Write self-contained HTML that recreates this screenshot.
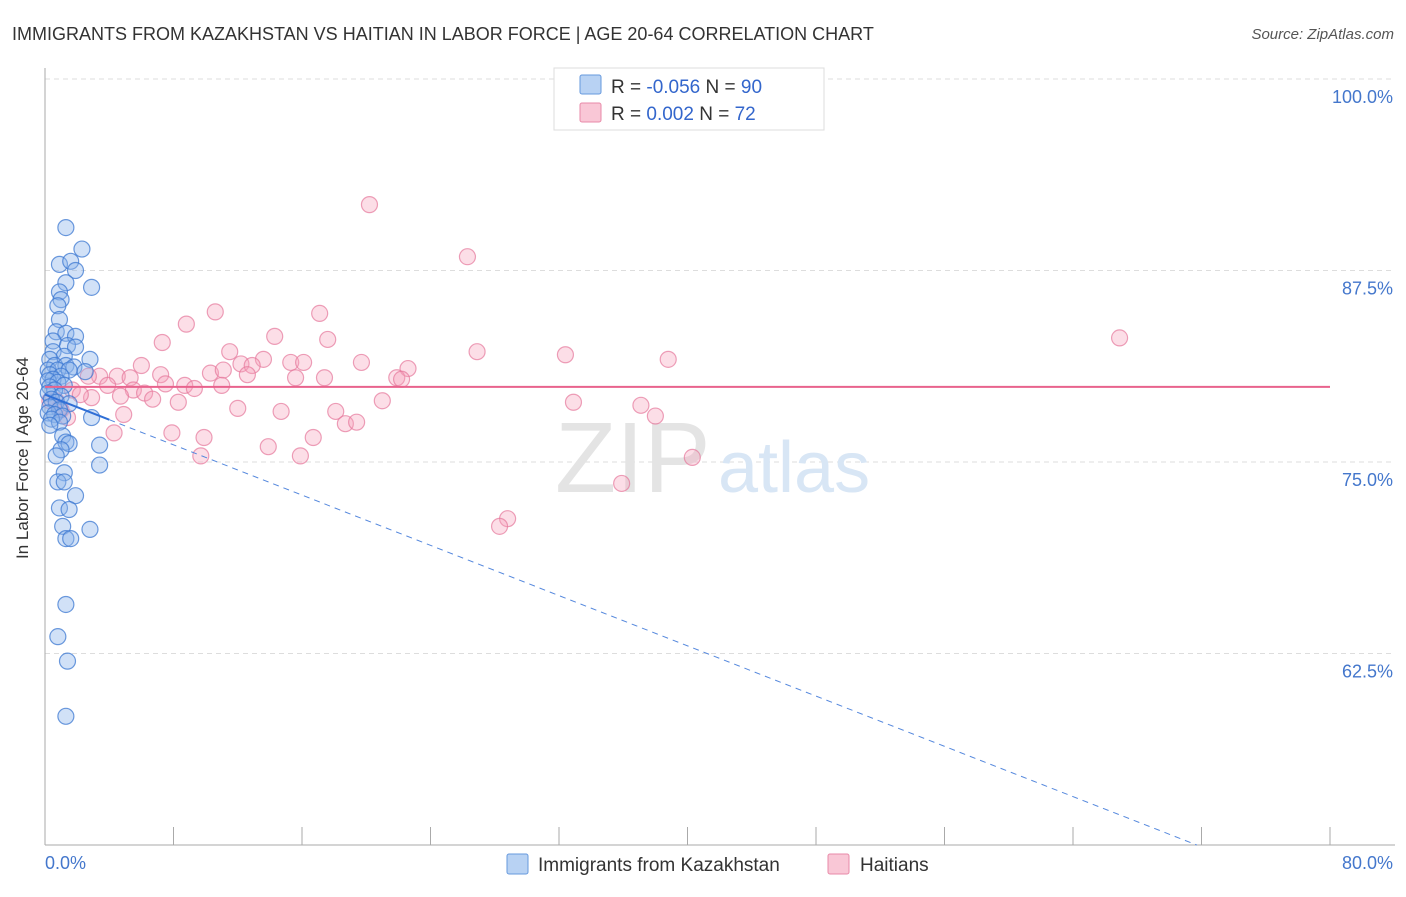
<!DOCTYPE html>
<html><head><meta charset="utf-8"><style>
body{margin:0;background:#fff;font-family:"Liberation Sans",sans-serif;}
svg text{font-family:"Liberation Sans",sans-serif;}
</style></head><body>
<svg width="1406" height="892">
<text x="12" y="40" font-size="18" fill="#333">IMMIGRANTS FROM KAZAKHSTAN VS HAITIAN IN LABOR FORCE | AGE 20-64 CORRELATION CHART</text>
<text x="1394" y="39" font-size="15" fill="#555" font-style="italic" text-anchor="end">Source: ZipAtlas.com</text>
<g id="grid"></g>
<text x="555" y="492" font-size="100" fill="#e4e4e4" font-family="Liberation Serif">ZIP</text>
<text x="718" y="492" font-size="72" fill="#d8e6f5">atlas</text>
<g id="axes"></g>
<g id="pts"></g>
<g id="lines"></g>
<text x="28" y="458" font-size="17" fill="#333" text-anchor="middle" transform="rotate(-90 28 458)">In Labor Force | Age 20-64</text>
<text x="45" y="869" font-size="18" fill="#4477cc">0.0%</text>
<text x="1393" y="869" font-size="18" fill="#4477cc" text-anchor="end">80.0%</text>
<g>
<rect x="554" y="68" width="270" height="62" fill="#fff" stroke="#ddd"/>
<rect x="580" y="75" width="21" height="19" fill="#b8d2f3" stroke="#6699dd" rx="2"/>
<rect x="580" y="103" width="21" height="19" fill="#f9c7d6" stroke="#e88aa8" rx="2"/>
<text x="611" y="93" font-size="19" fill="#333">R = <tspan fill="#3366cc">-0.056</tspan>   N = <tspan fill="#3366cc">90</tspan></text>
<text x="611" y="120" font-size="19" fill="#333">R =   <tspan fill="#3366cc">0.002</tspan>   N =  <tspan fill="#3366cc">72</tspan></text>
</g>
<g>
<rect x="507" y="854" width="21" height="20" fill="#b8d2f3" stroke="#6699dd" rx="2"/>
<text x="538" y="871" font-size="19" fill="#333">Immigrants from Kazakhstan</text>
<rect x="828" y="854" width="21" height="20" fill="#f9c7d6" stroke="#e88aa8" rx="2"/>
<text x="860" y="871" font-size="19" fill="#333">Haitians</text>
</g>
</svg>
<script>
const yTicks=[100,87.5,75,62.5];
const yTickLabels=["100.0%","87.5%","75.0%","62.5%"];
const blueX=[1.3,2.3,0.9,1.6,1.9,1.3,2.9,0.9,1.0,0.8,0.9,0.7,1.3,1.9,0.5,1.4,1.9,0.5,1.2,0.3,2.8,0.6,1.3,1.8,0.2,0.8,1.5,2.5,0.3,1.0,0.5,0.2,0.8,1.2,0.3,0.6,0.2,1.0,0.4,0.7,1.5,0.3,0.9,0.2,0.6,1.1,2.9,0.4,0.9,0.3,1.1,1.3,1.5,3.4,1.0,0.7,3.4,1.2,0.8,1.2,1.9,0.9,1.5,1.1,2.8,1.3,1.6,1.3,0.8,1.4,1.3];
const blueY=[90.3,88.9,87.9,88.1,87.5,86.7,86.4,86.1,85.6,85.2,84.3,83.5,83.4,83.2,82.9,82.6,82.5,82.2,81.9,81.7,81.7,81.3,81.3,81.2,81.0,81.0,81.0,80.9,80.7,80.6,80.4,80.3,80.2,80.0,79.9,79.7,79.5,79.3,79.1,78.9,78.8,78.6,78.4,78.2,78.1,78.0,77.9,77.8,77.6,77.4,76.7,76.3,76.2,76.1,75.8,75.4,74.8,74.3,73.7,73.7,72.8,72.0,71.9,70.8,70.6,70.0,70.0,65.7,63.6,62.0,58.4];
const pinkX=[20.2,26.3,10.6,8.8,17.1,14.3,17.6,7.3,11.5,13.6,26.9,32.4,38.8,66.9,6.0,12.2,12.9,15.3,16.1,19.7,22.6,4.5,5.3,3.4,7.2,10.3,11.1,12.6,15.6,17.4,21.9,22.2,3.9,5.5,7.5,8.7,9.3,11.0,6.2,6.7,8.3,2.9,4.7,1.7,2.2,21.0,32.9,37.1,1.0,4.9,12.0,14.7,18.1,18.7,19.4,38.0,4.3,7.9,9.9,16.7,13.9,9.7,15.9,40.3,35.9,28.8,28.3,1.4,0.9,2.7,0.3,0.7];
const pinkY=[91.8,88.4,84.8,84.0,84.7,83.2,83.0,82.8,82.2,81.7,82.2,82.0,81.7,83.1,81.3,81.4,81.3,81.5,81.5,81.5,81.1,80.6,80.5,80.6,80.7,80.8,81.0,80.7,80.5,80.5,80.5,80.4,80.0,79.7,80.1,80.0,79.8,80.0,79.5,79.1,78.9,79.2,79.3,79.7,79.4,79.0,78.9,78.7,78.4,78.1,78.5,78.3,78.3,77.5,77.6,78.0,76.9,76.9,76.6,76.6,76.0,75.4,75.4,75.3,73.6,71.3,70.8,77.9,78.5,80.6,79.0,79.0];
const blueTrend=[79.4,-0.41];
const pinkTrend=[79.9,0];
const NS='http://www.w3.org/2000/svg';
const X0=45,X1=1330,XMAX=80,Y50=845,Y100=79;
function sx(v){return X0+v/XMAX*(X1-X0);}
function sy(v){return Y50-(v-50)/50*(Y50-Y100);}
function mk(t,a,p){const e=document.createElementNS(NS,t);for(const k in a)e.setAttribute(k,a[k]);document.getElementById(p).appendChild(e);return e;}
yTicks.forEach((t,i)=>{
 const l=mk('line',{x1:X0,x2:1395,y1:sy(t),y2:sy(t),stroke:'#ddd','stroke-dasharray':'5,4'},'grid');
 
 
 const tx=mk('text',{x:1393,y:sy(t)+24,'font-size':18,fill:'#4477cc','text-anchor':'end'},'grid');
 tx.textContent=yTickLabels[i];
 
 
});
let a=mk('line',{x1:X0,x2:X0,y1:68,y2:Y50,stroke:'#aaa'},'axes');


a=mk('line',{x1:X0,x2:1395,y1:Y50,y2:Y50,stroke:'#aaa'},'axes');


for(let i=0;i<=10;i++){const t=mk('line',{x1:sx(i*8),x2:sx(i*8),y1:Y50,y2:Y50-18,stroke:'#aaa'},'axes');
 
 }
pinkX.forEach((x,i)=>{const c=mk('circle',{cx:sx(x),cy:sy(pinkY[i]),r:8,fill:'rgba(245,160,185,0.35)',stroke:'rgba(230,120,155,0.7)','stroke-width':1.2},'pts');
 
 });
blueX.forEach((x,i)=>{const c=mk('circle',{cx:sx(x),cy:sy(blueY[i]),r:8,fill:'rgba(140,180,235,0.4)',stroke:'rgba(60,120,210,0.75)','stroke-width':1.2},'pts');
 
 });
let L=mk('line',{x1:sx(0),x2:sx(80),y1:sy(pinkTrend[0]),y2:sy(pinkTrend[0]+pinkTrend[1]*80),stroke:'#e8638d','stroke-width':2},'lines');


const bxEnd=(50-blueTrend[0])/blueTrend[1];
L=mk('line',{x1:sx(0),x2:sx(4),y1:sy(blueTrend[0]),y2:sy(blueTrend[0]+blueTrend[1]*4),stroke:'#2f6fd6','stroke-width':2},'lines');


L=mk('line',{x1:sx(4),x2:sx(bxEnd),y1:sy(blueTrend[0]+blueTrend[1]*4),y2:sy(50),stroke:'#5588dd','stroke-width':1,'stroke-dasharray':'6,5'},'lines');


</script>
</body></html>
